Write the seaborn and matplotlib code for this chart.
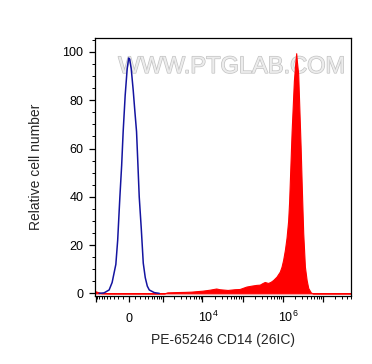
import numpy as np
import pandas as pd
import matplotlib
matplotlib.use("Agg")
import matplotlib.pyplot as plt
import matplotlib.transforms as mtransforms
import matplotlib.patheffects as pe
from matplotlib.ticker import FixedLocator, FixedFormatter
import seaborn as sns

# ---- data ----
isotype_x = [-815, -597, -427, -343, -253, -213, -168, -134, -106, -70, -35, -9, 9,
             35, 70, 97, 130, 153, 182, 224, 269, 317, 370, 427, 597, 815]
isotype_y = [0, 0.2, 1.4, 4.5, 12, 22, 40, 53, 67, 82, 93, 97.5, 97,
             93, 84, 76, 67, 55, 40, 27, 12.5, 6.5, 3, 1.4, 0.3, 0]

cd14_x = [-1041, -869, -722, -427, 1105, 1321, 1990, 3550, 5230, 7100,
          10000, 15000, 22000, 26700, 42300, 63300, 84400,
          124000, 168000, 220000, 267000, 317000, 356000, 430000, 502000, 574000, 698000,
          844000, 931000, 1.02e6, 1.13e6, 1.24e6, 1.36e6, 1.44e6, 1.66e6, 1.89e6, 2.06e6,
          2.16e6, 2.25e6, 2.42e6, 2.78e6, 3.0e6, 3.23e6, 3.56e6, 3.93e6, 4.31e6, 5.03e6,
          5.64e6, 5.0e7]
cd14_y = [0.9, 0.5, 0.1, 0, 0, 0.4, 0.5, 0.6, 0.7, 0.9,
          1.1, 1.5, 2.0, 1.7, 1.4, 1.7, 1.8,
          2.8, 3.2, 3.5, 3.6, 4.3, 4.7, 4.3, 4.8, 5.5, 6.9,
          9, 11, 13.8, 18, 23, 30, 38, 67, 88, 96,
          99.5, 96, 91, 61, 42, 25, 11, 5.5, 2.2, 0.3,
          0, 0]

x_major = [-1000, 0, 1000, 1e4, 1e5, 1e6, 1e7]
x_major_labels = ["", "0", "", r"$\mathregular{10^4}$", "", r"$\mathregular{10^6}$", ""]
x_minor = ([v for v in range(-900, 1000, 100) if v != 0] +
           [m * 10 ** e for e in range(3, 8) for m in range(2, 10)])
y_major = [0, 20, 40, 60, 80, 100]
y_minor = list(range(0, 106, 5))

x_label = "PE-65246 CD14 (26IC)"
y_label = "Relative cell number"
watermark = "WWW.PTGLAB.COM"

# ---- style ----
sns.set_theme(style="white")
plt.rcParams["font.family"] = ["Liberation Sans", "DejaVu Sans"]
plt.rcParams["mathtext.fontset"] = "custom"
plt.rcParams["mathtext.rm"] = "Liberation Sans"
plt.rcParams["mathtext.it"] = "Liberation Sans:italic"
plt.rcParams["mathtext.bf"] = "Liberation Sans:bold"

C = 300.0
def fwd(x):
    return np.arcsinh(np.asarray(x, dtype=float) / C)
def inv(y):
    return C * np.sinh(np.asarray(y, dtype=float))

fig = plt.figure(figsize=(3.72, 3.64), dpi=100)
ax = fig.add_axes([95 / 372, 1 - 296 / 364, 256 / 372, 258 / 364])
ax.set_xscale("function", functions=(fwd, inv))

iso = pd.DataFrame({"x": isotype_x, "y": isotype_y})
cd14 = pd.DataFrame({"x": cd14_x, "y": cd14_y})

ax.fill_between(cd14["x"], cd14["y"], 0, color="#ff0000", linewidth=0.8,
                edgecolor="#ff0000", zorder=2)
sns.lineplot(data=iso, x="x", y="y", ax=ax, color="#1414a0", linewidth=1.1,
             estimator=None, sort=False, zorder=3)

ax.set_xlim(-1045, 5.0e7)
ax.set_ylim(-1.1, 105.8)

ax.xaxis.set_major_locator(FixedLocator(x_major))
ax.xaxis.set_major_formatter(FixedFormatter(x_major_labels))
ax.xaxis.set_minor_locator(FixedLocator(x_minor))
ax.yaxis.set_major_locator(FixedLocator(y_major))
ax.yaxis.set_minor_locator(FixedLocator(y_minor))

for s in ax.spines.values():
    s.set_color("black")
    s.set_linewidth(0.9)

ax.tick_params(axis="both", which="major", direction="out", length=4.5, width=0.9,
               color="black", labelsize=9, labelcolor="black")
ax.tick_params(axis="both", which="minor", direction="out", length=2.5, width=0.7,
               color="black")
ax.tick_params(axis="y", which="major", pad=4)
ax.tick_params(axis="x", which="major", pad=14)
ax.tick_params(bottom=True, left=True, which="both")

shift = mtransforms.ScaledTranslation(6 / 100, 0, fig.dpi_scale_trans)
for lab in ax.get_xticklabels():
    lab.set_verticalalignment("baseline")
    if "10" in lab.get_text():
        lab.set_transform(lab.get_transform() + shift)

ax.set_xlabel(x_label, fontsize=10, labelpad=6)
ax.set_ylabel(y_label, fontsize=10, labelpad=13.5)

ax.text(0.533, 0.888, watermark, transform=ax.transAxes, ha="center", va="center",
        fontsize=17, color="#ececec", zorder=1,
        path_effects=[pe.withStroke(linewidth=1.0, foreground="#c2c2c2")])

fig.savefig("out.png", dpi=100)
